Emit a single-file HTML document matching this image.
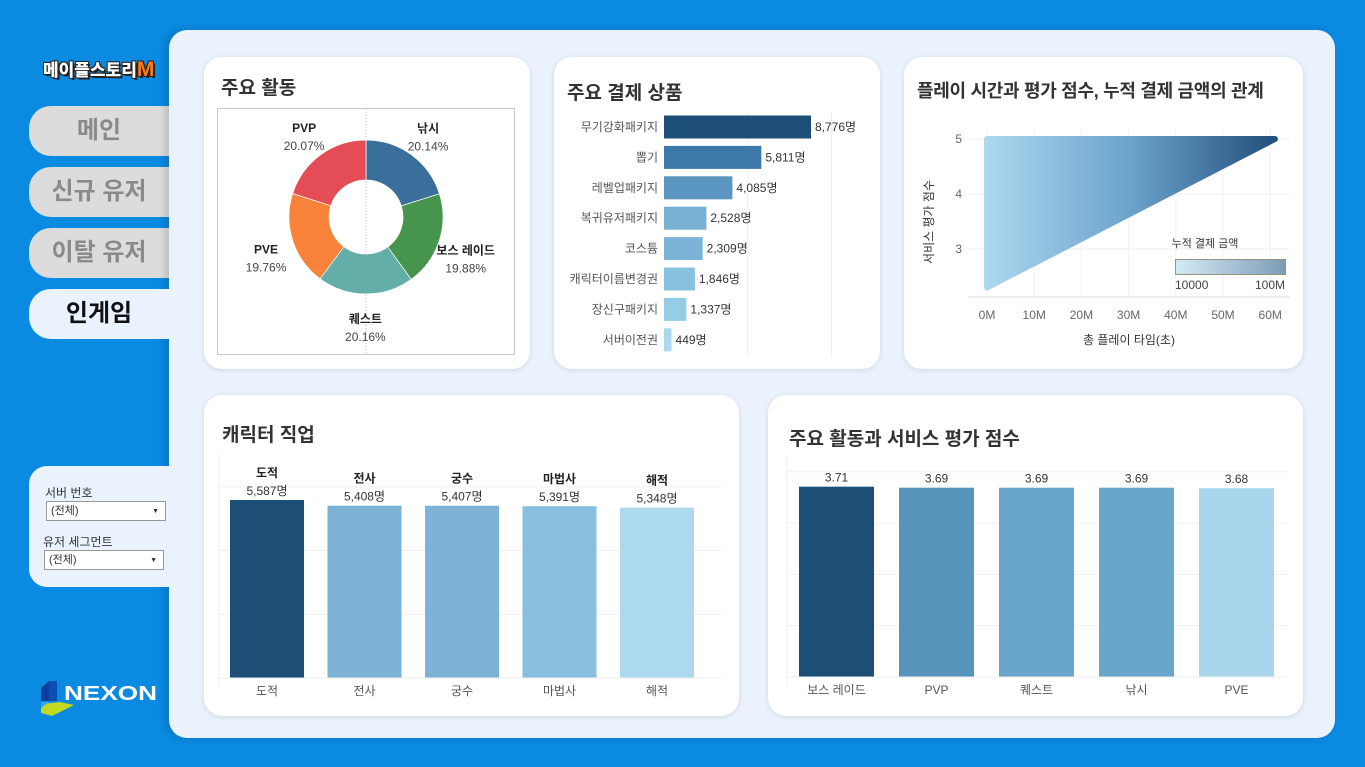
<!DOCTYPE html>
<html><head><meta charset="utf-8">
<style>
*{box-sizing:border-box;margin:0;padding:0}
body{width:1365px;height:767px;background:#0a8ae0;font-family:"Liberation Sans","Noto Sans CJK KR",sans-serif;position:relative;overflow:hidden;color:#333}
.abs{position:absolute}
.main{left:169px;top:30px;width:1166px;height:708px;background:#eaf3fd;border-radius:18px;box-shadow:-4px 0 8px rgba(0,0,0,.15)}
.tab{left:29px;width:140px;height:50px;background:#dcdcdc;border-radius:22px 0 0 22px;font-size:24px;font-weight:bold;color:#8a8a8a;text-align:center;line-height:50px}
.tab.on{background:#eaf3fd;color:#111}
.card{background:#fff;border-radius:18px;box-shadow:0 1px 6px rgba(0,0,0,.12)}
.title{font-size:19px;font-weight:bold;color:#333}
svg text{font-family:"Liberation Sans","Noto Sans CJK KR",sans-serif}
.sel{background:#fff;border:1px solid #999;height:20px;font-size:11px;line-height:18px;padding-left:4px;color:#333}
.sel:after{content:"▼";position:absolute;right:6px;top:1px;font-size:7px}
</style></head><body>
<div class="abs" style="left:43px;top:56px;font-size:17px;font-weight:900;color:#fff;text-shadow:-1px -1px 0 #222,1px -1px 0 #222,-1px 1px 0 #222,1px 1px 0 #222,2px 2px 0 #222">메이플스토리<span style="color:#ff7a1a;font-size:21px">M</span></div>
<div class="abs tab" style="top:106px">메인</div>
<div class="abs tab" style="top:167px">신규 유저</div>
<div class="abs tab" style="top:228px">이탈 유저</div>
<div class="abs main"></div>
<div class="abs tab on" style="top:289px">인게임</div>
<div class="abs" style="left:29px;top:466px;width:145px;height:121px;background:#eaf3fd;border-radius:18px 0 0 18px">
  <div class="abs" style="left:16px;top:18px;font-size:12px">서버 번호</div>
  <div class="abs sel" style="left:17px;top:35px;width:120px">(전체)</div>
  <div class="abs" style="left:14px;top:67px;font-size:12px">유저 세그먼트</div>
  <div class="abs sel" style="left:15px;top:84px;width:120px">(전체)</div>
</div>
<svg class="abs" style="left:40px;top:680px" width="120" height="36">
<polygon points="1,8 9,1 9,21 1,21" fill="#0b3f9c"/><polygon points="9,1 17,1 17,21 9,21" fill="#0a4fb5"/>
<polygon points="1,24 20,22 34,25 12,36 1,33" fill="#c3d820"/><polygon points="1,22 9,22 1,28" fill="#33aaee"/>
<text x="24" y="20" font-size="20" font-weight="bold" fill="#fff" textLength="93" lengthAdjust="spacingAndGlyphs">NEXON</text></svg>

<div class="abs card" style="left:204px;top:57px;width:326px;height:312px">
<div class="abs title" style="left:17px;top:16px">주요 활동</div>
<svg class="abs" style="left:0;top:0" width="326" height="312" id="donut"></svg>
</div>
<div class="abs card" style="left:554px;top:57px;width:326px;height:312px">
<div class="abs title" style="left:13px;top:21px">주요 결제 상품</div>
<svg class="abs" style="left:0;top:0" width="326" height="312" id="hbar"></svg>
</div>
<div class="abs card" style="left:904px;top:57px;width:399px;height:312px">
<div class="abs title" style="left:13px;top:20px;font-size:18px;letter-spacing:-0.3px">플레이 시간과 평가 점수, 누적 결제 금액의 관계</div>
<svg class="abs" style="left:0;top:0" width="399" height="312" id="scat"></svg>
</div>
<div class="abs card" style="left:204px;top:395px;width:535px;height:321px">
<div class="abs title" style="left:18px;top:25px">캐릭터 직업</div>
<svg class="abs" style="left:0;top:0" width="535" height="321" id="job"></svg>
</div>
<div class="abs card" style="left:768px;top:395px;width:535px;height:321px">
<div class="abs title" style="left:21px;top:29px">주요 활동과 서비스 평가 점수</div>
<svg class="abs" style="left:0;top:0" width="535" height="321" id="rate"></svg>
</div>

<script>
const NS="http://www.w3.org/2000/svg";
function mk(svg,tag,attrs,txt){const e=document.createElementNS(NS,tag);for(const k in attrs)e.setAttribute(k,attrs[k]);if(txt!==undefined)e.textContent=txt;svg.appendChild(e);return e;}

const actLabels=["낚시","보스 레이드","퀘스트","PVE","PVP"];
const actValues=[20.14,19.88,20.16,19.76,20.07];
const actColors=["#3a6f9b","#47944c","#63aea9","#f8823a","#e44c56"];
const prodLabels=["무기강화패키지","뽑기","레벨업패키지","복귀유저패키지","코스튬","캐릭터이름변경권","장신구패키지","서버이전권"];
const prodValues=[8776,5811,4085,2528,2309,1846,1337,449];
const prodColors=["#1d4e78","#3c78a8","#5a96c0","#79b1d5","#7cb4d7","#88c2df","#95cde6","#aad8ee"];
const scatX=[0,0,61];
const scatY=[2.3,5,5];
const scatXTicks=[0,10,20,30,40,50,60];
const scatYTicks=[3,4,5];
const jobLabels=["도적","전사","궁수","마법사","해적"];
const jobValues=[5587,5408,5407,5391,5348];
const jobColors=["#1d4e75","#7bb2d5","#7cb3d6","#88bfdf","#acd9ee"];
const rateLabels=["보스 레이드","PVP","퀘스트","낚시","PVE"];
const rateValues=[3.71,3.69,3.69,3.69,3.68];
const rateColors=["#1d4e75","#5893bc","#6aa6cb","#6aa6cb","#a9d6ec"];

(function(){
const s=document.getElementById('donut');
let r=mk(s,'rect',{x:13.5,y:51.5,width:297,height:246,fill:"none",stroke:"#c8c8c8"});

let l=mk(s,'line',{x1:162,y1:52,x2:162,y2:297,stroke:"#bbb","stroke-dasharray":"1,2"});

const cx=162,cy=160,R=77,ri=37;const tot=actValues.reduce((a,b)=>a+b,0);
let a0=-Math.PI/2;
actValues.forEach((v,i)=>{
 const a1=a0+v/tot*2*Math.PI;
 const p=(a,rr)=>[cx+rr*Math.cos(a),cy+rr*Math.sin(a)];
 const [x0,y0]=p(a0,R),[x1,y1]=p(a1,R),[x2,y2]=p(a1,ri),[x3,y3]=p(a0,ri);
 const lg=(a1-a0)>Math.PI?1:0;
 const path=mk(s,'path',{d:`M${x0},${y0}A${R},${R} 0 ${lg} 1 ${x1},${y1}L${x2},${y2}A${ri},${ri} 0 ${lg} 0 ${x3},${y3}Z`,fill:actColors[i],stroke:"#fff","stroke-width":0.7});
 
 const am=(a0+a1)/2;
 const lx=cx+105*Math.cos(am), ly=cy+100*Math.sin(am)+(Math.sin(am)>0?10:0);
 const t1=mk(s,'text',{x:lx,y:ly-4,"text-anchor":"middle","font-size":12,"font-weight":"bold",fill:"#222"},actLabels[i]);
 
 const t2=mk(s,'text',{x:lx,y:ly+14,"text-anchor":"middle","font-size":12,fill:"#444"},v.toFixed(2)+"%");
 
 a0=a1;
});
})();

(function(){
const s=document.getElementById('hbar');
const x0=110,k=147/8776,y0=70,pitch=30.4,h=23;
const X=v=>x0+v*k;
[5000,10000].forEach(g=>{const l=mk(s,'line',{x1:X(g),y1:55,x2:X(g),y2:300,stroke:"#eee"});});
prodValues.forEach((v,i)=>{
 const cy=y0+i*pitch;
 const r=mk(s,'rect',{x:x0,y:cy-h/2,width:X(v)-x0,height:h,fill:prodColors[i]});
 
 const t=mk(s,'text',{x:x0-6,y:cy+4,"text-anchor":"end","font-size":12,fill:"#555"},prodLabels[i]);
 
 const t2=mk(s,'text',{x:X(v)+4,y:cy+4,"font-size":12,fill:"#333"},v.toLocaleString('en-US')+"명");
 
});
})();

(function(){
const s=document.getElementById('scat');
const X=v=>83+v*4.72, Y=v=>82-(v-5)*55;
const defs=mk(s,'defs',{});
const g=mk(defs,'linearGradient',{id:'sg',x1:0,x2:1,y1:0,y2:0});
mk(g,'stop',{offset:0,"stop-color":"#acd7ee"});mk(g,'stop',{offset:0.5,"stop-color":"#6aa3cc"});mk(g,'stop',{offset:1,"stop-color":"#234f7c"});
const g2=mk(defs,'linearGradient',{id:'lg',x1:0,x2:1,y1:0,y2:0});
mk(g2,'stop',{offset:0,"stop-color":"#d4ebf6"});mk(g2,'stop',{offset:1,"stop-color":"#7d9cb6"});
scatYTicks.forEach(t=>{const l=mk(s,'line',{x1:65,x2:386,y1:Y(t),y2:Y(t),stroke:"#eee"});
 const tx=mk(s,'text',{x:58,y:Y(t)+4,"text-anchor":"end","font-size":12,fill:"#666"},t);});
scatXTicks.forEach(t=>{const l=mk(s,'line',{x1:X(t),x2:X(t),y1:72,y2:240,stroke:"#f0f0f0"});
 const tx=mk(s,'text',{x:X(t),y:262,"text-anchor":"middle","font-size":12,fill:"#666"},t+"M");});
const bl=mk(s,'line',{x1:65,x2:386,y1:240,y2:240,stroke:"#ddd"});
const pts=scatX.map((x,i)=>X(x)+","+Y(scatY[i])).join(" ");
const p=mk(s,'polygon',{points:pts,fill:"url(#sg)",stroke:"url(#sg)","stroke-width":6,"stroke-linejoin":"round"});

const xt=mk(s,'text',{x:225,y:287,"text-anchor":"middle","font-size":12,fill:"#333"},"총 플레이 타임(초)");
const yt=mk(s,'text',{x:0,y:0,"text-anchor":"middle","font-size":12,fill:"#333",transform:"translate(29,165) rotate(-90)"},"서비스 평가 점수");
const lt=mk(s,'text',{x:301,y:190,"text-anchor":"middle","font-size":11,fill:"#333"},"누적 결제 금액");
const lr=mk(s,'rect',{x:271.5,y:202.5,width:110,height:15,fill:"url(#lg)",stroke:"#9a9080"});
const l1=mk(s,'text',{x:271,y:232,"font-size":12,fill:"#444"},"10000");
const l2=mk(s,'text',{x:381,y:232,"text-anchor":"end","font-size":12,fill:"#444"},"100M");
})();

function vbars(id,labels,values,colors,opt){
 const s=document.getElementById(id);
 const Y=v=>opt.base-v*opt.k;
 opt.grid.forEach(g=>{const l=mk(s,'line',{x1:opt.left,x2:opt.right,y1:Y(g),y2:Y(g),stroke:"#efefef"});});
 const va=mk(s,'line',{x1:opt.left,x2:opt.left,y1:opt.top,y2:opt.base+8,stroke:"#eee"});
 labels.forEach((lb,i)=>{
  const x=opt.x0+i*opt.pitch;const v=values[i];
  const r=mk(s,'rect',{x:x,y:Y(v),width:opt.w,height:opt.base-Y(v),fill:colors[i]});
  
  const cx=x+opt.w/2;
  if(opt.bold){const t=mk(s,'text',{x:cx,y:Y(v)-23,"text-anchor":"middle","font-size":12,"font-weight":"bold",fill:"#222"},lb);}
  const tv=mk(s,'text',{x:cx,y:Y(v)-5,"text-anchor":"middle","font-size":12,fill:"#333"},opt.fmt(v));
  const tl=mk(s,'text',{x:cx,y:opt.base+17,"text-anchor":"middle","font-size":12,fill:"#555"},lb);
 });
 const bl=mk(s,'line',{x1:opt.left,x2:opt.right,y1:opt.base,y2:opt.base,stroke:"#eee"});
}
vbars('job',jobLabels,jobValues,jobColors,{base:283,k:178/5587,grid:[2000,4000,6000],left:15,right:518,top:60,x0:26,pitch:97.5,w:74,bold:true,fmt:v=>v.toLocaleString('en-US')+"명"});
vbars('rate',rateLabels,rateValues,rateColors,{base:282,k:51.3,grid:[1,2,3,4],left:19,right:519,top:62,x0:31,pitch:100,w:75,bold:false,fmt:v=>v.toFixed(2)});
</script>
</body></html>
